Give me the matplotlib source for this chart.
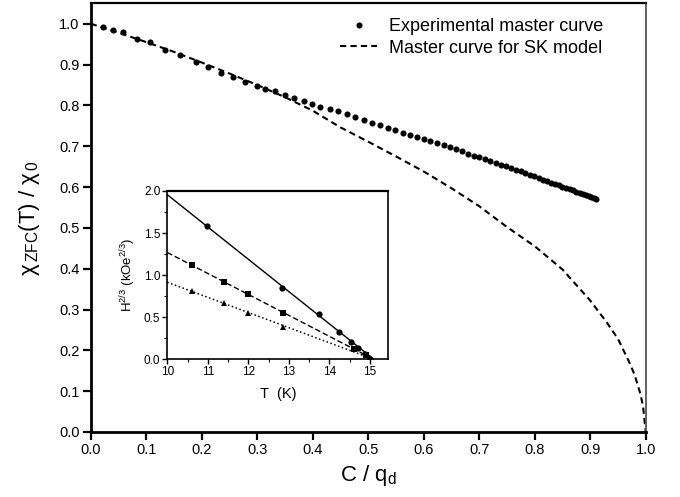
import matplotlib.pyplot as plt
from matplotlib.ticker import MultipleLocator

plt.rcParams['font.family'] = ['Liberation Sans', 'DejaVu Sans']
plt.rcParams['mathtext.fontset'] = 'custom'
plt.rcParams['mathtext.rm'] = 'Liberation Sans'
plt.rcParams['mathtext.it'] = 'Liberation Sans:italic'

# experimental master curve, chi_ZFC(T)/chi_0 against C/q_d
exp_x = [0.022, 0.041, 0.058, 0.083, 0.106, 0.134, 0.161, 0.190, 0.212, 0.234,
         0.257, 0.278, 0.299, 0.314, 0.332, 0.350, 0.366, 0.384, 0.399, 0.414,
         0.431, 0.446, 0.462, 0.477, 0.492, 0.507, 0.521, 0.535, 0.549, 0.562,
         0.575, 0.588, 0.600, 0.612, 0.624, 0.636, 0.647, 0.658, 0.669, 0.680,
         0.690, 0.700, 0.710, 0.720, 0.730, 0.739, 0.748, 0.757, 0.766, 0.775,
         0.783, 0.791, 0.799, 0.807, 0.815, 0.822, 0.829, 0.836, 0.843, 0.850,
         0.857, 0.863, 0.869, 0.875, 0.881, 0.887, 0.892, 0.897, 0.902, 0.906,
         0.910]
exp_y = [0.993, 0.985, 0.979, 0.963, 0.954, 0.936, 0.923, 0.905, 0.893, 0.879,
         0.869, 0.858, 0.848, 0.840, 0.834, 0.826, 0.817, 0.810, 0.804, 0.797,
         0.791, 0.785, 0.778, 0.771, 0.764, 0.758, 0.751, 0.745, 0.739, 0.733,
         0.727, 0.722, 0.717, 0.712, 0.707, 0.702, 0.697, 0.692, 0.687, 0.682,
         0.677, 0.673, 0.668, 0.664, 0.659, 0.655, 0.651, 0.647, 0.642, 0.638,
         0.634, 0.630, 0.626, 0.622, 0.618, 0.615, 0.611, 0.608, 0.605, 0.601,
         0.598, 0.595, 0.592, 0.589, 0.586, 0.583, 0.580, 0.577, 0.575, 0.573,
         0.570]

# SK model master curve
sk_x = [0.0, 0.05, 0.1, 0.15, 0.2, 0.25, 0.3, 0.35, 0.4, 0.45, 0.5, 0.55, 0.6,
        0.65, 0.7, 0.75, 0.8, 0.85, 0.9, 0.93, 0.95, 0.97, 0.98, 0.99, 0.995, 1.0]
sk_y = [1.0, 0.978, 0.955, 0.931, 0.905, 0.878, 0.850, 0.820, 0.787, 0.746,
        0.711, 0.675, 0.638, 0.597, 0.553, 0.502, 0.455, 0.398, 0.322, 0.268,
        0.228, 0.172, 0.140, 0.095, 0.065, 0.0]

# inset: H^(2/3) against T for the three criteria
circ_T = [10.97, 12.82, 13.74, 14.23, 14.53, 14.70, 14.87, 15.01]
circ_H = [1.587, 0.852, 0.539, 0.330, 0.210, 0.140, 0.070, 0.010]
sq_T = [10.62, 11.41, 11.98, 12.86, 14.60, 14.90]
sq_H = [1.120, 0.917, 0.774, 0.548, 0.125, 0.050]
tri_T = [10.62, 11.40, 11.99, 12.86, 15.00]
tri_H = [0.810, 0.667, 0.555, 0.390, 0.020]

# linear fits drawn through each set
fit_T = [10.0, 15.1]
fit_circ = [1.956, 0.0]
fit_sq = [1.270, 0.0]
fit_tri = [0.917, 0.0]

fig = plt.figure(figsize=(6.8, 4.97), dpi=100)
ax = fig.add_axes([0.1334, 0.1308, 0.8162, 0.8626])

h_exp, = ax.plot(exp_x, exp_y, 'o', color='black', ms=4.4, mew=0,
                 label='Experimental master curve')
h_sk, = ax.plot(sk_x, sk_y, '--', color='black', lw=1.5, dashes=(3, 2),
                label='Master curve for SK model')

ax.set_xlim(0, 1.0)
ax.set_ylim(0, 1.05)
ax.xaxis.set_major_locator(MultipleLocator(0.1))
ax.yaxis.set_major_locator(MultipleLocator(0.1))
ax.xaxis.set_major_formatter(plt.FuncFormatter(lambda v, p: f'{v:.1f}'))
ax.yaxis.set_major_formatter(plt.FuncFormatter(lambda v, p: f'{v:.1f}'))
ax.tick_params(direction='out', length=6, width=1.6, labelsize=10.5, pad=2,
               top=False, right=False)
for side in ['left', 'bottom']:
    ax.spines[side].set_linewidth(2.0)
ax.spines['top'].set_linewidth(1.6)
ax.spines['right'].set_linewidth(1.3)
ax.spines['right'].set_color('#555555')

ax.set_xlabel('C / q$_{\\rm d}$', fontsize=16, labelpad=4)
ax.set_ylabel('χ$_{\\rm\\,ZFC}$(T) / χ$_{\\rm\\,0}$', fontsize=16, labelpad=12)

ax.legend(handles=[h_exp, h_sk], loc='upper left', bbox_to_anchor=(0.45, 0.965),
          frameon=False, fontsize=13, handlelength=2.0, handletextpad=0.7,
          labelspacing=0.25, borderaxespad=0, borderpad=0)

# inset
ins = fig.add_axes([0.246, 0.2767, 0.325, 0.339])
ins.plot(fit_T, fit_circ, '-', color='black', lw=1.0)
ins.plot(fit_T, fit_sq, '--', color='black', lw=1.0, dashes=(4, 2))
ins.plot(fit_T, fit_tri, ':', color='black', lw=1.1)
ins.plot(circ_T, circ_H, 'o', color='black', ms=4.5, mew=0)
ins.plot(sq_T, sq_H, 's', color='black', ms=4.5, mew=0)
ins.plot(tri_T, tri_H, '^', color='black', ms=4.8, mew=0)

ins.set_xlim(10, 15.45)
ins.set_ylim(0, 2.0)
ins.xaxis.set_major_locator(MultipleLocator(1))
ins.xaxis.set_minor_locator(MultipleLocator(0.5))
ins.yaxis.set_major_locator(MultipleLocator(0.5))
ins.yaxis.set_minor_locator(MultipleLocator(0.25))
ins.yaxis.set_major_formatter(plt.FuncFormatter(lambda v, p: f'{v:.1f}'))
ins.tick_params(which='major', direction='out', length=3.5, width=1.0,
                labelsize=8.5, pad=1.5)
ins.tick_params(which='minor', direction='out', length=2, width=0.8)
for side in ins.spines:
    ins.spines[side].set_linewidth(1.2)
ins.spines['top'].set_linewidth(1.6)
ins.set_xlabel('T  (K)', fontsize=10.5, labelpad=6)
ins.set_ylabel('H$^{\\rm 2/3}$ (kOe$^{\\rm 2/3}$)', fontsize=9.5, labelpad=4)

fig.savefig('out.png', dpi=100)
